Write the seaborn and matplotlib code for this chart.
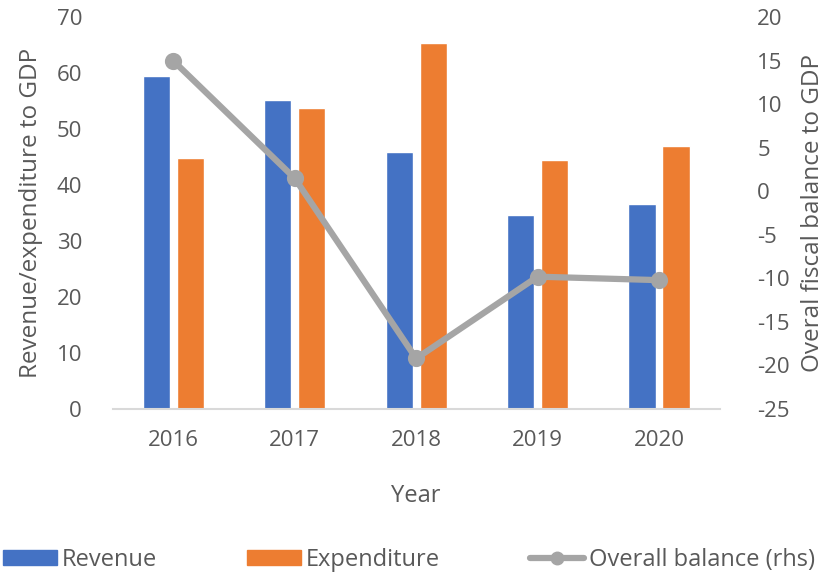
import numpy as np
import pandas as pd
import matplotlib
matplotlib.use("Agg")
import matplotlib.pyplot as plt
import seaborn as sns

years = ["2016", "2017", "2018", "2019", "2020"]
revenue = [59.5, 55.2, 45.9, 34.6, 36.7]
expenditure = [44.8, 53.8, 65.4, 44.5, 47.0]
balance = [15.0, 1.5, -19.2, -9.8, -10.2]

blue = "#4472C4"
orange = "#ED7D31"
grey = "#A5A5A5"
txt = "#595959"

sns.set_theme(style="white")
plt.rcParams["font.family"] = ["Open Sans", "DejaVu Sans"]
plt.rcParams["axes.unicode_minus"] = False
plt.rcParams["text.color"] = txt
plt.rcParams["axes.labelcolor"] = txt
plt.rcParams["xtick.color"] = txt
plt.rcParams["ytick.color"] = txt

df = pd.DataFrame({
    "Year": years * 2,
    "value": revenue + expenditure,
    "series": ["Revenue"] * 5 + ["Expenditure"] * 5,
})

fig = plt.figure(figsize=(8.34, 5.76), dpi=100)
ax = fig.add_axes([0.135, 0.29, 0.728, 0.68])

sns.barplot(data=df, x="Year", y="value", hue="series",
            palette=[blue, orange], width=0.56, gap=0.2,
            saturation=1, ax=ax, legend=False)
ax.set_ylim(0, 70)
ax.set_yticks(range(0, 71, 10))
ax.set_xlim(-0.5, 4.5)
ax.set_ylabel("Revenue/expenditure to GDP", fontsize=17.5, labelpad=10)
ax.set_xlabel("Year", fontsize=17, labelpad=24)
ax.tick_params(axis="both", labelsize=16, length=0)
ax.tick_params(axis="x", pad=15)
ax.tick_params(axis="y", pad=22)
for s in ["top", "right", "left"]:
    ax.spines[s].set_visible(False)
ax.spines["bottom"].set_color("#D9D9D9")
ax.spines["bottom"].set_linewidth(1.5)

ax2 = ax.twinx()
sns.pointplot(x=years, y=balance, color=grey, markers="o",
              markersize=9, linewidth=4.5, ax=ax2)
ax2.set_ylim(-25, 20)
ax2.set_yticks(range(-25, 21, 5))
ax2.set_xlim(-0.5, 4.5)
ax2.set_ylabel("Overal fiscal balance to GDP", fontsize=17.5, labelpad=8)
ax2.tick_params(axis="y", labelsize=16, length=0, pad=27)
for s in ["top", "right", "left", "bottom"]:
    ax2.spines[s].set_visible(False)

handles = [
    plt.Rectangle((0, 0), 1, 1, color=blue),
    plt.Rectangle((0, 0), 1, 1, color=orange),
    plt.Line2D([], [], color=grey, lw=4.5, marker="o", markersize=9),
]
fig.legend(handles, ["Revenue", "Expenditure", "Overall balance (rhs)"],
           loc="lower center", bbox_to_anchor=(0.49, -0.03), ncol=3,
           frameon=False, fontsize=17, handlelength=2.3, handleheight=0.6,
           handletextpad=0.2, columnspacing=3.8)

fig.savefig("out.png", dpi=100)
